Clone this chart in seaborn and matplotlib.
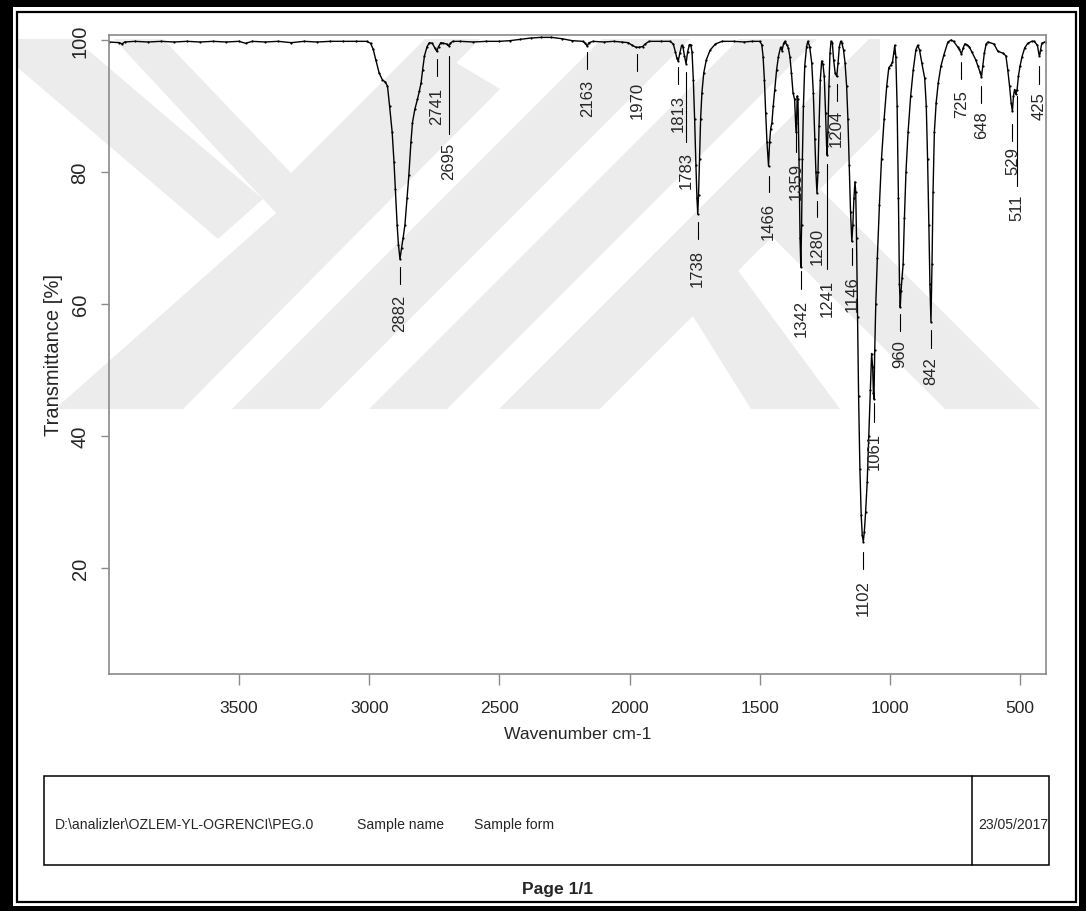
import matplotlib
matplotlib.use("Agg")
import matplotlib.pyplot as plt
from matplotlib import font_manager
from matplotlib.patches import Rectangle, Polygon
import seaborn as sns

# ---------------- data ----------------
wavenumber = [4000, 3960, 3950, 3940, 3900, 3850, 3800, 3750, 3700, 3650, 3600, 3550, 3500,
              3475, 3450, 3400, 3350, 3300, 3250, 3200, 3150, 3100, 3050, 3010, 2995, 2985,
              2975, 2962, 2950, 2938, 2930, 2922, 2912, 2905, 2900, 2893, 2888, 2882, 2876,
              2870, 2863, 2855, 2848, 2840, 2834, 2825, 2815, 2808, 2801, 2795, 2788, 2778,
              2769, 2758, 2748, 2741, 2734, 2725, 2715, 2703, 2695, 2688, 2680, 2650, 2600,
              2550, 2500, 2460, 2420, 2380, 2340, 2300, 2260, 2220, 2180, 2170, 2163, 2156,
              2140, 2100, 2060, 2030, 2005, 1990, 1975, 1965, 1950, 1940, 1925, 1880, 1845,
              1832, 1824, 1818, 1813, 1807, 1800, 1795, 1789, 1783, 1777, 1770, 1765, 1760,
              1755, 1750, 1745, 1741, 1738, 1735, 1731, 1727, 1722, 1715, 1705, 1690, 1670,
              1645, 1600, 1560, 1530, 1500, 1492, 1487, 1482, 1477, 1472, 1466, 1462, 1458,
              1453, 1448, 1442, 1435, 1428, 1420, 1414, 1408, 1403, 1396, 1390, 1384, 1378,
              1372, 1366, 1362, 1359, 1356, 1353, 1349, 1345, 1342, 1339, 1336, 1332, 1327,
              1320, 1315, 1308, 1300, 1294, 1288, 1284, 1280, 1276, 1272, 1267, 1262, 1257,
              1252, 1247, 1243, 1241, 1238, 1234, 1230, 1226, 1221, 1216, 1210, 1204, 1199,
              1194, 1189, 1184, 1178, 1172, 1166, 1161, 1156, 1151, 1146, 1142, 1138, 1134,
              1131, 1128, 1124, 1120, 1115, 1110, 1106, 1102, 1098, 1093, 1087, 1081, 1075,
              1070, 1066, 1063, 1061, 1058, 1054, 1048, 1040, 1032, 1022, 1012, 1004, 996,
              990, 985, 981, 977, 972, 967, 963, 960, 957, 953, 949, 944, 938, 930, 920, 910,
              900, 893, 886, 877, 866, 860, 855, 850, 846, 842, 838, 834, 829, 822, 814, 804,
              792, 777, 765, 755, 740, 733, 725, 718, 712, 705, 695, 685, 670, 661, 654, 648,
              643, 637, 630, 623, 600, 585, 565, 554, 547, 540, 534, 529, 525, 521, 516, 511,
              506, 500, 492, 482, 470, 455, 445, 433, 428, 425, 421, 416, 405, 400]
transmittance = [99.7, 99.6, 99.4, 99.7, 99.8, 99.7, 99.8, 99.7, 99.8, 99.7, 99.8, 99.7, 99.8,
                 99.5, 99.8, 99.7, 99.8, 99.6, 99.8, 99.7, 99.8, 99.8, 99.8, 99.8, 99.5, 98.6,
                 97.0, 95.0, 94.0, 93.6, 93.0, 90.0, 86.0, 81.5, 77.5, 72.0, 69.0, 66.8, 68.5,
                 70.0, 72.0, 76.0, 79.5, 84.5, 87.5, 89.5, 91.0, 92.2, 93.5, 95.5, 97.6, 99.0,
                 99.6, 99.5, 98.8, 98.3, 99.0, 99.6, 99.5, 99.4, 99.1, 99.5, 99.8, 99.8, 99.7,
                 99.8, 99.8, 99.9, 100.1, 100.3, 100.4, 100.4, 100.2, 99.9, 99.8, 99.5, 99.1, 99.6,
                 99.8, 99.7, 99.8, 99.7, 99.6, 99.2, 98.9, 98.9, 99.0, 99.4, 99.8, 99.8, 99.8,
                 99.4, 98.2, 97.2, 96.8, 98.0, 99.2, 99.0, 97.6, 96.4, 98.2, 99.3, 99.3, 98.2,
                 94.0, 88.0, 81.0, 76.0, 73.6, 76.5, 82.0, 88.0, 92.0, 95.0, 97.0, 98.5, 99.4,
                 99.8, 99.8, 99.7, 99.8, 99.8, 99.3, 97.5, 94.0, 89.0, 84.5, 80.9, 84.5, 86.5,
                 87.5, 90.0, 92.5, 95.5, 97.5, 98.9, 98.4, 99.5, 99.8, 99.3, 98.8, 97.5, 95.0,
                 92.0, 91.0, 87.5, 86.0, 91.5, 91.0, 82.0, 70.0, 65.6, 72.0, 82.0, 90.0, 96.0,
                 99.0, 99.8, 99.0, 96.5, 92.0, 85.0, 80.0, 76.8, 80.0, 87.0, 94.0, 96.8, 96.3,
                 94.5, 89.0, 84.0, 82.6, 86.0, 93.0, 98.0, 99.8, 99.6, 97.0, 95.0, 94.5, 96.5,
                 99.0, 99.8, 99.5, 98.5, 96.5, 93.0, 88.0, 81.0, 74.0, 69.5, 72.0, 76.0, 78.5,
                 77.0, 70.0, 58.0, 46.0, 35.0, 28.0, 25.0, 24.0, 25.5, 28.5, 33.0, 40.0, 47.0,
                 52.5, 50.5, 46.5, 45.6, 53.0, 60.0, 67.0, 75.0, 82.0, 88.0, 93.0, 95.8, 96.2,
                 96.6, 98.0, 99.2, 97.5, 90.0, 76.0, 63.0, 59.5, 62.0, 64.0, 66.0, 73.0, 80.0,
                 86.0, 91.5, 95.5, 98.5, 99.2, 98.5, 96.5, 94.2, 90.0, 82.0, 72.0, 63.0, 57.3,
                 66.0, 77.0, 86.0, 90.5, 93.5, 96.0, 97.8, 99.7, 100.0, 99.8, 99.0, 98.6, 97.9,
                 98.8, 99.4, 99.3, 99.0, 98.2, 97.0, 96.0, 95.2, 94.4, 96.0, 98.0, 99.4, 99.7,
                 99.4, 98.3, 98.0, 97.6, 95.5, 93.0, 90.5, 89.2, 91.5, 92.5, 91.8, 92.5, 94.5,
                 96.0, 97.5, 98.8, 99.5, 99.8, 99.8, 99.2, 98.0, 97.6, 98.5, 99.5, 99.7, 99.7]

peak_labels = [2882, 2741, 2695, 2163, 1970, 1813, 1783, 1738, 1466, 1359, 1342, 1280,
               1241, 1204, 1146, 1102, 1061, 960, 842, 725, 648, 529, 511, 425]
x_ticks = [3500, 3000, 2500, 2000, 1500, 1000, 500]
y_ticks = [20, 40, 60, 80, 100]

x_label = "Wavenumber cm-1"
y_label = "Transmittance [%]"
footer_path = r"D:\analizler\OZLEM-YL-OGRENCI\PEG.0"
footer_name = "Sample name"
footer_form = "Sample form"
footer_date = "23/05/2017"
page_text = "Page 1/1"

# layout of peak annotations (line top, line bottom, text top), in % transmittance
label_layout = {
    2882: (65.6, 63.0, 61.5), 2741: (97.1, 94.5, 92.9), 2695: (97.6, 85.8, 84.6),
    2163: (98.2, 95.6, 94.1), 1970: (97.9, 95.3, 93.8), 1813: (95.9, 93.3, 91.8),
    1783: (95.2, 84.6, 83.2), 1738: (72.4, 69.9, 68.3), 1466: (79.4, 77.0, 75.5),
    1359: (86.1, 83.0, 81.5), 1342: (65.0, 62.3, 60.8), 1280: (75.6, 73.2, 71.7),
    1241: (81.2, 65.3, 63.8), 1204: (93.3, 90.8, 89.5), 1146: (68.5, 65.9, 64.4),
    1102: (22.4, 19.9, 18.3), 1061: (45.0, 42.1, 40.6), 960: (58.5, 55.9, 54.7),
    842: (56.0, 53.3, 52.1), 725: (96.7, 94.1, 92.6), 648: (93.0, 90.5, 89.4),
    529: (87.3, 84.7, 83.9), 511: (91.5, 77.9, 76.7), 425: (96.1, 93.4, 92.3),
}

# background watermark shapes (page pixel coordinates)
watermark = [
    [(17, 40), (75, 40), (263, 200), (218, 240), (17, 68)],
    [(114, 40), (163, 40), (291, 174), (425, 40), (480, 40), (291, 230)],
    [(55, 410), (183, 410), (500, 90), (450, 60)],
    [(232, 410), (320, 410), (690, 40), (602, 40)],
    [(369, 410), (447, 410), (817, 40), (739, 40)],
    [(499, 410), (600, 410), (880, 130), (880, 40), (869, 40)],
    [(654, 255), (700, 220), (840, 410), (751, 410)],
    [(723, 189), (780, 150), (1040, 410), (945, 410)],
]

# ---------------- style ----------------
sns.set_style("white")
names = {f.name for f in font_manager.fontManager.ttflist}
HAS_NARROW = "Liberation Sans Narrow" in names
NARROW = "Liberation Sans Narrow" if HAS_NARROW else "Liberation Sans"
nscale = 1.0 if HAS_NARROW else 0.84
plt.rcParams["font.family"] = ["Liberation Sans", "DejaVu Sans"]

W, H = 1086, 912
fig = plt.figure(figsize=(W / 100, H / 100), dpi=100)
fig.patch.set_facecolor("white")

bg = fig.add_axes([0, 0, 1, 1], zorder=0)
bg.set_xlim(0, W)
bg.set_ylim(H, 0)
bg.axis("off")

for poly in watermark:
    bg.add_patch(Polygon(poly, closed=True, facecolor="#ececec", edgecolor="none"))

# page frame
for (x0, y0, w, h) in [(0, 0, 12.5, H), (0, 0, W, 8), (1079, 0, 7, H), (0, 907, W, 5)]:
    bg.add_patch(Rectangle((x0, y0), w, h, facecolor="black", edgecolor="none"))
bg.add_patch(Rectangle((17.2, 12.8), 1075.5 - 17.2, 903 - 12.8, fill=False,
                       edgecolor="black", lw=1.6))

# footer box
bg.add_patch(Rectangle((43.5, 777), 1049 - 43.5, 866 - 777, fill=False,
                       edgecolor="black", lw=1.1))
bg.plot([972, 972], [777, 866], color="black", lw=1.1)
bg.text(55, 825, footer_path, ha="left", va="center", fontsize=12 * nscale, family=NARROW)
bg.text(357, 825, footer_name, ha="left", va="center", fontsize=12 * nscale, family=NARROW)
bg.text(474, 825, footer_form, ha="left", va="center", fontsize=12 * nscale, family=NARROW)
bg.text(978, 825, footer_date, ha="left", va="center", fontsize=12 * nscale, family=NARROW)
bg.text(558, 890, page_text, ha="center", va="center", fontsize=15 * nscale,
        family=NARROW, fontweight="bold")

# ---------------- main spectrum axes ----------------
ax = fig.add_axes([109 / W, 1 - 675 / H, (1046 - 109) / W, (675 - 36) / H], zorder=2)
ax.set_facecolor("none")

sns.lineplot(x=wavenumber, y=transmittance, ax=ax, color="black", lw=1.0,
             sort=False, estimator=None, marker="o", markersize=1.6,
             markeredgewidth=0, legend=False)

ax.set_xlim(4000, 400)
ax.set_ylim(3.94, 100.76)

for sp in ax.spines.values():
    sp.set_visible(True)
    sp.set_color("#8a8a8a")
    sp.set_linewidth(1.2)

ax.set_xticks(x_ticks)
ax.set_xticklabels([str(v) for v in x_ticks], fontsize=15 * nscale, family=NARROW)
ax.set_yticks(y_ticks)
ax.set_yticklabels([str(v) for v in y_ticks], fontsize=14.5, rotation=90, va="center")
ax.tick_params(axis="x", direction="out", length=8, width=1.0, color="#8a8a8a", pad=11)
ax.tick_params(axis="y", direction="out", length=6, width=1.0, color="#8a8a8a", pad=8)
ax.tick_params(bottom=True, left=True, top=False, right=False)

ax.set_xlabel(x_label, fontsize=15 * nscale, family=NARROW)
ax.xaxis.set_label_coords(0.5, -0.081)
ax.set_ylabel(y_label, fontsize=14.5)
ax.yaxis.set_label_coords(-0.049, 0.5)

for wn in peak_labels:
    top, bot, ttop = label_layout[wn]
    ax.plot([wn, wn], [top, bot], color="black", lw=0.8)
    ax.text(wn, ttop, str(wn), rotation=90, ha="center", va="top", fontsize=12)

fig.savefig("out.png", dpi=100)
